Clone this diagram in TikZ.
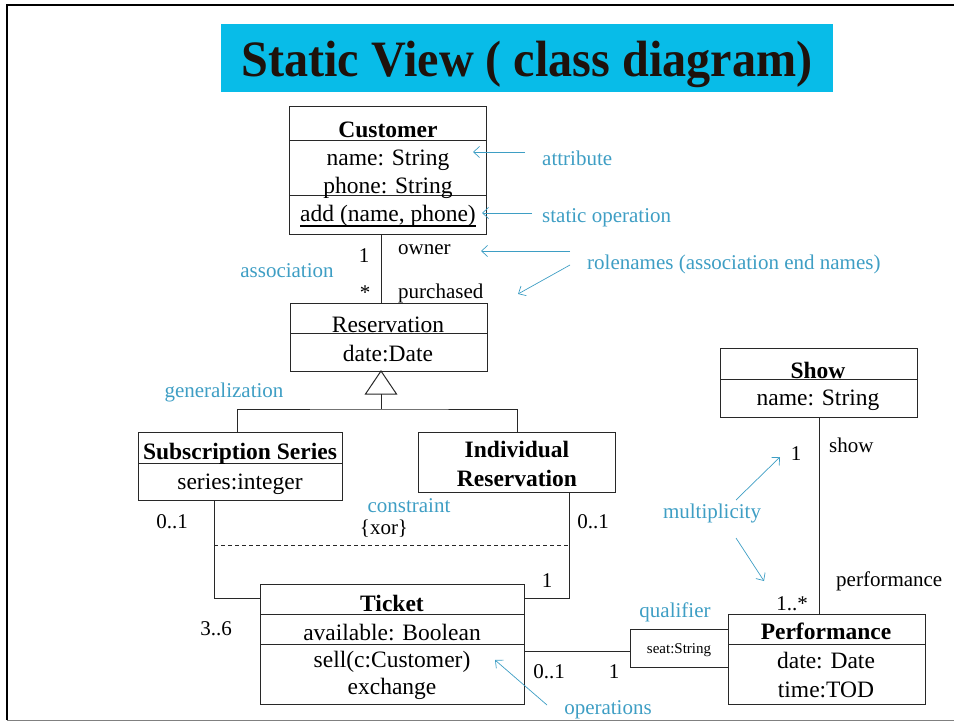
\documentclass[tikz,border=0pt]{standalone}
\usepackage{graphicx}
\usepackage{fontspec}
\setmainfont{Liberation Serif}
\usetikzlibrary{arrows.meta}
\definecolor{notecol}{RGB}{62,158,196}
\definecolor{titlebg}{RGB}{8,188,232}
\definecolor{titleink}{RGB}{30,18,12}
\definecolor{edge}{RGB}{40,40,40}

\begin{document}
\begin{tikzpicture}[x=1pt,y=-1pt,
  box/.style={draw=edge, line width=1pt, inner sep=0pt, outer sep=0pt},
  txt/.style={inner sep=0pt, yshift=-4pt, text height=0.7em, text depth=0.22em, font=\fontsize{23.5}{28}\selectfont},
  hdr/.style={txt, font=\fontsize{23.5}{28}\selectfont\bfseries},
  lbl/.style={inner sep=0pt, yshift=-4pt, text height=0.7em, text depth=0.22em, font=\fontsize{21}{25}\selectfont},
  note/.style={lbl, text=notecol},
  link/.style={draw=edge, line width=1pt},
  pointer/.style={draw=notecol, line width=0.7pt, -{Straight Barb[length=6pt,width=11pt]}},
]
\useasboundingbox (0,0) rectangle (954,722);

% page frame
\draw[line width=2.4pt, black] (7,720) -- (7,5) -- (954,5);
\draw[gray, line width=1pt] (7,720.5) -- (954,720.5);

% title banner
\node[fill=titlebg, minimum width=612pt, minimum height=68pt, inner sep=0pt] (title) at (527,58) {};
\node[anchor=base, inner sep=0pt, text=titleink, font=\fontsize{51}{60}\selectfont\bfseries] (titletext) at (527,77)
  {\scalebox{0.945}[1]{Static View ( class diagram)}};

% ---------- class boxes ----------
\node[box, minimum width=197pt, minimum height=128pt] (cust) at (388,171) {};
\draw[link] (cust.west |- 0,141) -- (cust.east |- 0,141);
\draw[link] (cust.west |- 0,196) -- (cust.east |- 0,196);
\node[hdr] (custname) at (388,131) {Customer};
\node[txt] (custa1) at (388,159) {name: String};
\node[txt] (custa2) at (388,187) {phone: String};
\node[txt] (custop) at (388,215) {add (name, phone)};
% static operation: underlined
\draw[black, line width=1.5pt] ([yshift=-4.5pt]custop.base west) -- ([yshift=-4.5pt]custop.base east);

\node[box, minimum width=197pt, minimum height=67pt] (res) at (388.5,337.5) {};
\draw[link] (res.west |- 0,334) -- (res.east |- 0,334);
\node[txt] (resname) at (388,326) {Reservation};
\node[txt] (resa1) at (388,355) {date:Date};

\node[box, minimum width=204pt, minimum height=68pt] (sub) at (240,466) {};
\draw[link] (sub.west |- 0,463) -- (sub.east |- 0,463);
\node[hdr] (subname) at (240,453) {Subscription Series};
\node[txt] (suba1) at (240,483) {series:integer};

\node[box, minimum width=197pt, minimum height=60pt] (ind) at (516.5,462) {};
\node[hdr] (indname1) at (517,451) {Individual};
\node[hdr] (indname2) at (517,480) {Reservation};

\node[box, minimum width=264pt, minimum height=120pt] (tick) at (392,644) {};
\draw[link] (tick.west |- 0,614) -- (tick.east |- 0,614);
\draw[link] (tick.west |- 0,644) -- (tick.east |- 0,644);
\node[hdr] (tickname) at (392,605) {Ticket};
\node[txt] (ticka1) at (392,634) {available: Boolean};
\node[txt] (tickop1) at (392,661) {sell(c:Customer)};
\node[txt] (tickop2) at (392,688) {exchange};

\node[box, minimum width=197pt, minimum height=68pt] (show) at (819,383) {};
\draw[link] (show.west |- 0,379) -- (show.east |- 0,379);
\node[hdr] (showname) at (818,372) {Show};
\node[txt] (showa1) at (818,399) {name: String};

\node[box, minimum width=197pt, minimum height=90pt] (perf) at (826.5,659) {};
\draw[link] (perf.west |- 0,644) -- (perf.east |- 0,644);
\node[hdr] (perfname) at (826,633) {Performance};
\node[txt] (perfa1) at (826,662) {date: Date};
\node[txt] (perfa2) at (826,691) {time:TOD};

\node[box, minimum width=98pt, minimum height=38pt] (qual) at (679,648) {};
\node[inner sep=0pt, font=\fontsize{15}{18}\selectfont] (qualtext) at (679,650) {seat:String};

% ---------- relationships ----------
% Customer -- Reservation
\draw[link] (cust.south -| 381,0) -- (res.north -| 381,0);
\node[lbl] (m1) at (364,256) {1};
\node[lbl, anchor=west] (owner) at (398,248) {owner};
\node[lbl] (m2) at (365,293) {*};
\node[lbl, anchor=west] (purch) at (398,292) {purchased};

% generalization
\coordinate (gbase) at (381,394);
\coordinate (gjoin) at (381,409);
\draw[link, fill=white] (res.south -| 381,0) -- ++(-15.5,23) -- ++(31,0) -- cycle;
\draw[link] (gbase) -- (gjoin);
\draw[link] (sub.north -| 237,0) |- (gjoin) -| (ind.north -| 517,0);

% Ticket links with xor constraint
\draw[link] (sub.south -| 214,0) |- (tick.west |- 0,598);
\draw[link] (ind.south -| 569,0) |- (tick.east |- 0,598);
\coordinate (xorl) at (214,545);
\coordinate (xorr) at (569,545);
\draw[draw=edge, line width=0.7pt, dash pattern=on 4pt off 3pt] (xorl) -- (xorr);
\node[lbl] (xor) at (384,528) {\{xor\}};
\node[lbl] (m3) at (172,522) {0..1};
\node[lbl] (m4) at (593,522) {0..1};
\node[lbl] (m5) at (547,581) {1};
\node[lbl] (m6) at (216,629) {3..6};

% Ticket -- qualifier -- Performance
\draw[link] (tick.east |- 0,651) -- (qual.west |- 0,651);
\node[lbl] (m7) at (549,672) {0..1};
\node[lbl] (m8) at (614,672) {1};

% Show -- Performance
\draw[link] (show.south -| 819,0) -- (perf.north -| 819,0);
\node[lbl] (m9) at (796,454) {1};
\node[lbl, anchor=west] (showrole) at (829,446) {show};
\node[lbl, anchor=west] (perfrole) at (836,580) {performance};
\node[lbl] (m10) at (792,604) {1..*};

% ---------- annotations ----------
\node[note, anchor=west] (nattr) at (542,159) {attribute};
\node[note, anchor=west] (nstat) at (542,216) {static operation};
\node[note, anchor=west] (nrole) at (587,263) {rolenames (association end names)};
\node[note] (nassoc) at (287,271) {association};
\node[note] (ngen) at (224,391) {generalization};
\node[note] (ncons) at (409,506) {constraint};
\node[note] (nmult) at (712,512) {multiplicity};
\node[note] (nqual) at (675,611) {qualifier};
\node[note] (nops) at (608,708) {operations};

\coordinate (pa1) at (525,152);  \coordinate (ta1) at (473,152);
\coordinate (pa2) at (532,213);  \coordinate (ta2) at (482,213);
\coordinate (pa3) at (570,251);  \coordinate (ta3) at (481,251);
\coordinate (pa4) at (570,265);  \coordinate (ta4) at (518,294);
\coordinate (pa5) at (736,500);  \coordinate (ta5) at (780,457);
\coordinate (pa6) at (736,538);  \coordinate (ta6) at (764,581);
\coordinate (pa7) at (547,705);  \coordinate (ta7) at (495,660);
\draw[pointer] (pa1) -- (ta1);
\draw[pointer] (pa2) -- (ta2);
\draw[pointer] (pa3) -- (ta3);
\draw[pointer] (pa4) -- (ta4);
\draw[pointer] (pa5) -- (ta5);
\draw[pointer] (pa6) -- (ta6);
\draw[pointer] (pa7) -- (ta7);
\end{tikzpicture}
\end{document}
